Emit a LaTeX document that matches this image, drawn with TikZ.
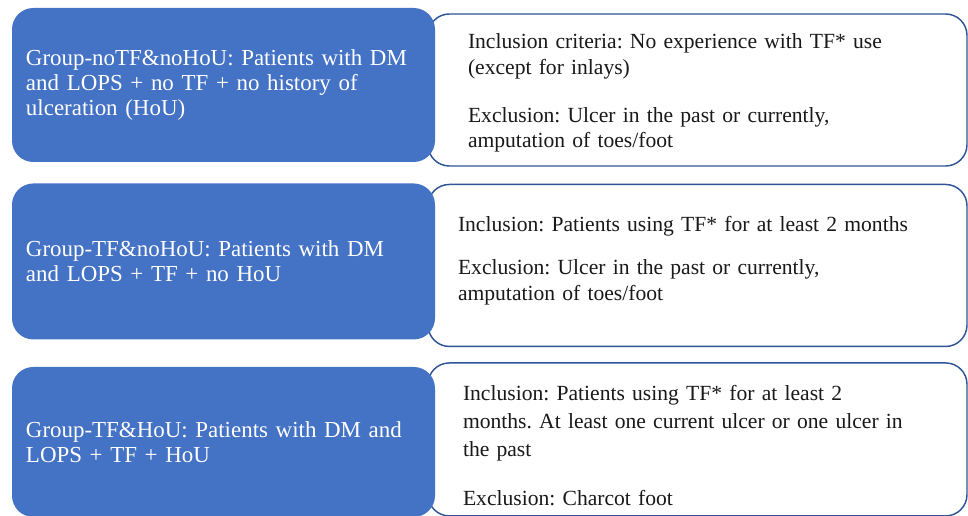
\documentclass[tikz,border=0pt]{standalone}
\usepackage{fontspec}
\setmainfont{Liberation Serif}
\usetikzlibrary{positioning}
\frenchspacing

\definecolor{groupblue}{HTML}{4472C4}
\definecolor{frameblue}{HTML}{2F5597}

\begin{document}
\begin{tikzpicture}[x=0.75pt, y=-0.75pt, node distance=12pt,
    group/.style={fill=groupblue, rounded corners=16pt, minimum width=317.25pt, text width=296.25pt, inner xsep=10.5pt, align=left, text=white, font=\fontsize{17.2}{18.75}\selectfont},
    criteria/.style={draw=frameblue, line width=1.1pt, fill=white, rounded corners=16pt, minimum width=404.25pt},
    crittext/.style={inner sep=0pt, align=left, text=black!90, font=\fontsize{16.2}{19}\selectfont}]

    \useasboundingbox (0,0) rectangle (968,516);

    % Right column boxes (behind)
    \node (crit1) [criteria, minimum height=114pt] at (697.5,90) {};
    \node (crit2) [criteria, minimum height=121.5pt, below=12.75pt of crit1] {};
    \node (crit3) [criteria, minimum height=114.75pt, below=11.25pt of crit2] {};

    % Left column nodes
    \node (group1) [group, minimum height=115.5pt, left=-6pt of crit1, yshift=3.75pt]
        {Group-noTF\&noHoU: Patients with DM\\ and LOPS + no TF + no history of\\ ulceration (HoU)};
    \node (group2) [group, minimum height=117pt, left=-6pt of crit2, yshift=3pt]
        {Group-TF\&noHoU: Patients with DM\\ and LOPS + TF + no HoU};
    \node (group3) [group, minimum height=112.5pt, left=-6pt of crit3, yshift=-1.9pt]
        {Group-TF\&HoU: Patients with DM and\\ LOPS + TF + HoU};

    % Criteria texts
    \node (text1) [crittext, text width=344.25pt, yshift=-2.25pt] at (crit1.center)
        {Inclusion criteria: No experience with TF* use\\ (except for inlays)\\[17.25pt]
         Exclusion: Ulcer in the past or currently,\\ amputation of toes/foot};
    \node (text2) [crittext, text width=359.25pt, yshift=3.75pt] at (crit2.center)
        {Inclusion: Patients using TF* for at least 2 months\\[13.5pt]
         Exclusion: Ulcer in the past or currently,\\ amputation of toes/foot};
    \node (text3) [crittext, text width=351.75pt, yshift=-4.9pt, font=\fontsize{16.2}{21}\selectfont] at (crit3.center)
        {Inclusion: Patients using TF* for at least 2\\ months. At least one current ulcer or one ulcer in\\ the past\\[15.75pt]
         Exclusion: Charcot foot};

\end{tikzpicture}
\end{document}
